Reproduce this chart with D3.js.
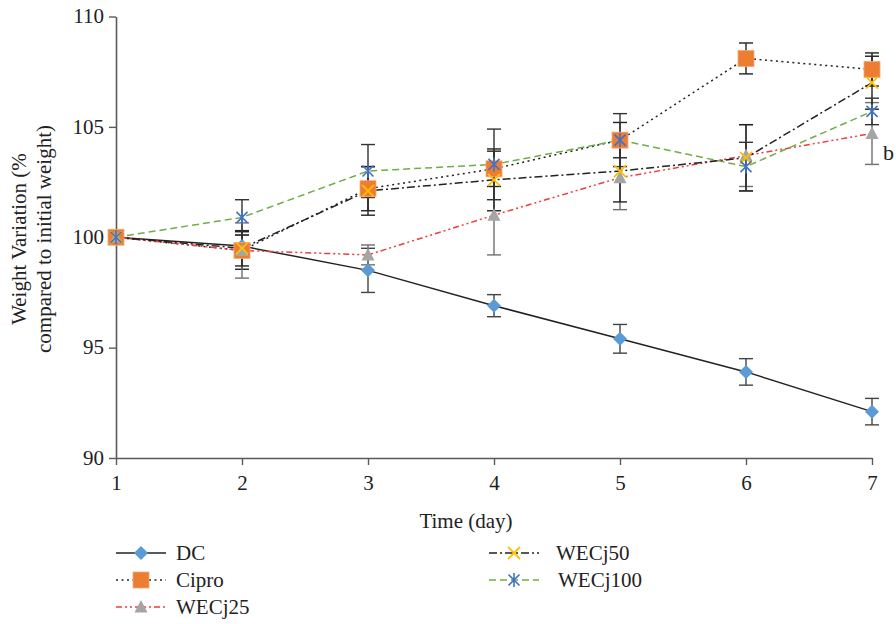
<!DOCTYPE html>
<html><head><meta charset="utf-8">
<script src="https://cdn.jsdelivr.net/npm/d3@7"></script>
<style>body{margin:0;background:#fff}svg{display:block}text{font-family:"Liberation Serif","DejaVu Serif",serif;fill:#222}</style>
</head><body>
<svg id="c" width="896" height="624"></svg>
<script>
const days = [1, 2, 3, 4, 5, 6, 7];
const yTicks = [90, 95, 100, 105, 110];
const dc = [100, 99.6, 98.5, 96.9, 95.4, 93.9, 92.1];
const dcErr = [0, 0.5, 1.0, 0.5, 0.65, 0.6, 0.6];
const cipro = [100, 99.4, 102.2, 103.1, 104.4, 108.1, 107.6];
const ciproErr = [0, 0.85, 1.0, 0.8, 0.8, 0.7, 0.75];
const wecj25 = [100, 99.4, 99.2, 101.0, 102.7, 103.7, 104.7];
const wecj25Err = [0, 1.25, 0.45, 1.8, 1.45, 1.4, 1.4];
const wecj50 = [100, 99.5, 102.1, 102.6, 103.0, 103.6, 107.0];
const wecj50Err = [0, 0.8, 1.1, 1.4, 1.4, 1.5, 1.2];
const wecj100 = [100, 100.9, 103.0, 103.3, 104.4, 103.2, 105.7];
const wecj100Err = [0, 0.8, 1.2, 1.6, 1.2, 1.1, 0.6];

const series = [
  {name:"DC", v:dc, e:dcErr, line:"#222", dash:null, marker:"diamond", mc:"#5b9bd5", ec:"#444"},
  {name:"Cipro", v:cipro, e:ciproErr, line:"#222", dash:"2,3.5", marker:"square", mc:"#ed7d31", ec:"#222"},
  {name:"WECj25", v:wecj25, e:wecj25Err, line:"#f03c3c", dash:"6,3,2,3,2,3", marker:"triangle", mc:"#a5a5a5", ec:"#707070"},
  {name:"WECj50", v:wecj50, e:wecj50Err, line:"#222", dash:"8,3,2,3", marker:"x", mc:"#ffc000", ec:"#222"},
  {name:"WECj100", v:wecj100, e:wecj100Err, line:"#70ad47", dash:"7,4", marker:"star", mc:"#4472c4", ec:"#333"}
];

const FS = 21;
const svg = d3.select("#c");
const x = d3.scaleLinear().domain([1,7]).range([116,872]);
const y = d3.scaleLinear().domain([90,110]).range([458,16.5]);

// axes
const gx = svg.append("g").attr("transform","translate(0,458)")
  .call(d3.axisBottom(x).tickValues(days).tickSize(7).tickSizeOuter(0).tickFormat(d3.format("d")));
const gy = svg.append("g").attr("transform","translate(116,0)")
  .call(d3.axisLeft(y).tickValues(yTicks).tickSize(7).tickSizeOuter(0));
[gx,gy].forEach(g=>{
  g.attr("font-size",FS).attr("font-family","Liberation Serif");
  g.select(".domain").attr("stroke","#595959").attr("stroke-width",1.6);
  g.selectAll(".tick line").attr("stroke","#595959").attr("stroke-width",1.4);
  g.selectAll(".tick text").attr("fill","#222");
});
gx.selectAll(".tick text").attr("y",13).attr("dy","0.9em");
gy.selectAll(".tick text").attr("x",-12).attr("dy","0.3em");

// titles
svg.append("text").attr("x",466).attr("y",528).attr("text-anchor","middle").attr("font-size",FS).text("Time (day)");
const yt = svg.append("text").attr("transform","translate(0,239) rotate(-90)").attr("text-anchor","middle").attr("font-size",FS);
yt.append("tspan").attr("x",0).attr("y",26).text("Weight Variation (%");
yt.append("tspan").attr("x",0).attr("y",51).text("compared to initial weight)");
svg.append("text").attr("x",883).attr("y",160).attr("font-size",FS+1).text("b");

function drawMarker(g, type, cx, cy, color){
  if(type==="diamond"){
    g.append("path").attr("d",`M${cx},${cy-7}L${cx+7},${cy}L${cx},${cy+7}L${cx-7},${cy}Z`).attr("fill",color);
  } else if(type==="square"){
    g.append("rect").attr("x",cx-8).attr("y",cy-8).attr("width",16).attr("height",16).attr("fill",color).attr("stroke","#f4a97a").attr("stroke-width",0.8);
  } else if(type==="triangle"){
    g.append("path").attr("d",`M${cx},${cy-7}L${cx+6.5},${cy+5.5}L${cx-6.5},${cy+5.5}Z`).attr("fill",color);
  } else if(type==="x"){
    g.append("path").attr("d",`M${cx-6},${cy-6}L${cx+6},${cy+6}M${cx-6},${cy+6}L${cx+6},${cy-6}`).attr("stroke",color).attr("stroke-width",1.8);
  } else if(type==="star"){
    g.append("path").attr("d",`M${cx-5.5},${cy-5.5}L${cx+5.5},${cy+5.5}M${cx-5.5},${cy+5.5}L${cx+5.5},${cy-5.5}M${cx},${cy-7}L${cx},${cy+7}`).attr("stroke",color).attr("stroke-width",1.6);
  }
}

const plot = svg.append("g");
// error bars
series.forEach(s=>{
  const g = plot.append("g");
  days.forEach((d,i)=>{
    if(!s.e[i]) return;
    const cx = x(d), y1 = y(s.v[i]+s.e[i]), y2 = y(s.v[i]-s.e[i]);
    g.append("line").attr("x1",cx).attr("x2",cx).attr("y1",y1).attr("y2",y2).attr("stroke",s.ec).attr("stroke-width",1.4);
    [y1,y2].forEach(yy=>g.append("line").attr("x1",cx-7).attr("x2",cx+7).attr("y1",yy).attr("y2",yy).attr("stroke",s.ec).attr("stroke-width",1.4));
  });
});
// lines
const lineGen = d3.line().x((d,i)=>x(days[i])).y(d=>y(d));
series.forEach(s=>{
  plot.append("path").attr("d",lineGen(s.v)).attr("fill","none").attr("stroke",s.line)
    .attr("stroke-width",1.5).attr("stroke-dasharray",s.dash);
});
// markers
series.forEach(s=>{
  const g = plot.append("g");
  days.forEach((d,i)=>drawMarker(g, s.marker, x(d), y(s.v[i]), s.mc));
});

// legend
const legPos = [
  {lx:116, tx:176, y:553},
  {lx:116, tx:176, y:580},
  {lx:116, tx:176, y:607},
  {lx:489, tx:556, y:553},
  {lx:489, tx:558, y:580}
];
series.forEach((s,i)=>{
  const p = legPos[i];
  const g = svg.append("g");
  g.append("line").attr("x1",p.lx).attr("x2",p.lx+50).attr("y1",p.y).attr("y2",p.y)
    .attr("stroke",s.line).attr("stroke-width",1.5).attr("stroke-dasharray",s.dash);
  drawMarker(g, s.marker, p.lx+25, p.y, s.mc);
  g.append("text").attr("x",p.tx).attr("y",p.y+7).attr("font-size",FS).text(s.name);
});
</script>
</body></html>
